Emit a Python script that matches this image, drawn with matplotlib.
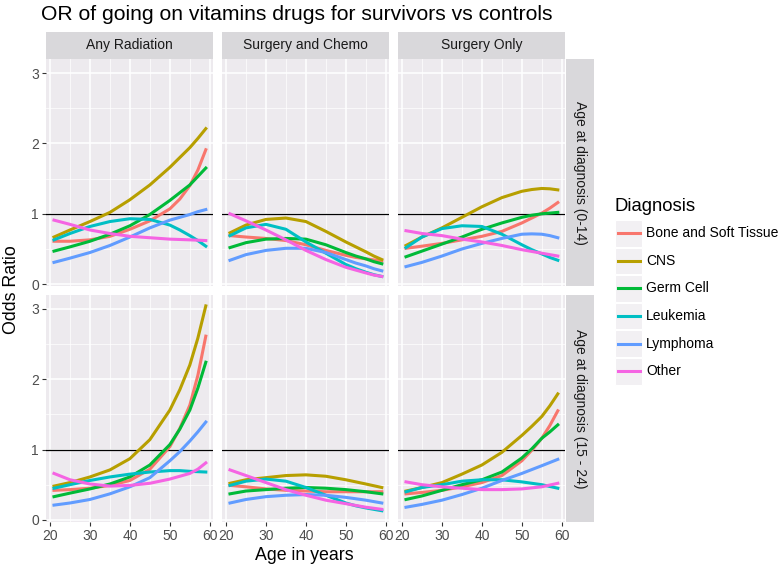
import matplotlib.pyplot as plt
from matplotlib.patches import Rectangle
from matplotlib.lines import Line2D
from matplotlib.ticker import MultipleLocator

plt.rcParams['font.family'] = ['Liberation Sans', 'DejaVu Sans']

# ages at which the fitted curves are read
ages = [21, 25, 30, 35, 40, 45, 50, 52.5, 55, 57, 59]

diagnoses = ['Bone and Soft Tissue', 'CNS', 'Germ Cell', 'Leukemia', 'Lymphoma', 'Other']
colors = ['#F8766D', '#B79F00', '#00BA38', '#00BFC4', '#619CFF', '#F564E3']
treatments = ['Any Radiation', 'Surgery and Chemo', 'Surgery Only']
age_groups = ['Age at diagnosis (0-14)', 'Age at diagnosis (15 - 24)']

# odds ratios, one list per diagnosis (same order as `diagnoses`)
radiation_young = [
    [0.61, 0.61, 0.63, 0.68, 0.78, 0.90, 1.07, 1.21, 1.40, 1.62, 1.91],
    [0.67, 0.77, 0.89, 1.02, 1.20, 1.41, 1.66, 1.80, 1.94, 2.07, 2.21],
    [0.47, 0.53, 0.61, 0.71, 0.83, 0.99, 1.19, 1.30, 1.41, 1.53, 1.65],
    [0.63, 0.72, 0.82, 0.89, 0.93, 0.92, 0.84, 0.77, 0.69, 0.62, 0.54],
    [0.31, 0.37, 0.45, 0.55, 0.67, 0.80, 0.91, 0.95, 0.99, 1.03, 1.06],
    [0.91, 0.85, 0.77, 0.72, 0.68, 0.66, 0.64, 0.635, 0.63, 0.625, 0.62],
]
chemo_young = [
    [0.69, 0.67, 0.65, 0.62, 0.56, 0.48, 0.41, 0.38, 0.36, 0.345, 0.33],
    [0.73, 0.84, 0.92, 0.94, 0.89, 0.75, 0.60, 0.53, 0.46, 0.40, 0.35],
    [0.52, 0.59, 0.64, 0.65, 0.64, 0.56, 0.45, 0.40, 0.36, 0.32, 0.29],
    [0.69, 0.80, 0.85, 0.78, 0.60, 0.44, 0.28, 0.22, 0.17, 0.135, 0.11],
    [0.34, 0.42, 0.48, 0.51, 0.51, 0.45, 0.35, 0.30, 0.26, 0.22, 0.19],
    [1.00, 0.90, 0.77, 0.63, 0.48, 0.35, 0.24, 0.20, 0.16, 0.13, 0.11],
]
surgery_young = [
    [0.51, 0.54, 0.58, 0.63, 0.68, 0.75, 0.87, 0.94, 1.01, 1.08, 1.16],
    [0.55, 0.67, 0.80, 0.95, 1.10, 1.23, 1.32, 1.345, 1.36, 1.355, 1.34],
    [0.39, 0.47, 0.57, 0.67, 0.78, 0.87, 0.95, 0.98, 1.00, 1.01, 1.02],
    [0.52, 0.67, 0.79, 0.83, 0.82, 0.71, 0.56, 0.49, 0.43, 0.38, 0.34],
    [0.25, 0.31, 0.40, 0.50, 0.58, 0.65, 0.71, 0.715, 0.71, 0.69, 0.66],
    [0.76, 0.72, 0.69, 0.64, 0.60, 0.55, 0.49, 0.465, 0.44, 0.42, 0.40],
]
radiation_old = [
    [0.42, 0.43, 0.45, 0.49, 0.56, 0.72, 1.04, 1.30, 1.63, 2.05, 2.61],
    [0.48, 0.53, 0.61, 0.71, 0.87, 1.14, 1.56, 1.85, 2.20, 2.58, 3.04],
    [0.33, 0.38, 0.44, 0.51, 0.61, 0.78, 1.07, 1.29, 1.56, 1.87, 2.24],
    [0.45, 0.50, 0.56, 0.61, 0.65, 0.68, 0.70, 0.70, 0.69, 0.685, 0.68],
    [0.21, 0.24, 0.29, 0.37, 0.47, 0.60, 0.84, 0.97, 1.12, 1.25, 1.39],
    [0.66, 0.57, 0.51, 0.48, 0.49, 0.52, 0.58, 0.62, 0.66, 0.72, 0.81],
]
chemo_old = [
    [0.49, 0.47, 0.44, 0.42, 0.41, 0.40, 0.40, 0.40, 0.40, 0.40, 0.40],
    [0.52, 0.57, 0.60, 0.63, 0.64, 0.62, 0.57, 0.54, 0.51, 0.485, 0.46],
    [0.37, 0.41, 0.43, 0.45, 0.46, 0.45, 0.43, 0.415, 0.40, 0.385, 0.37],
    [0.49, 0.55, 0.58, 0.55, 0.46, 0.35, 0.24, 0.20, 0.17, 0.15, 0.13],
    [0.24, 0.29, 0.33, 0.35, 0.36, 0.35, 0.32, 0.30, 0.28, 0.26, 0.24],
    [0.71, 0.63, 0.53, 0.43, 0.35, 0.28, 0.23, 0.205, 0.18, 0.165, 0.15],
]
surgery_old = [
    [0.37, 0.39, 0.42, 0.47, 0.53, 0.63, 0.84, 0.99, 1.16, 1.34, 1.55],
    [0.41, 0.46, 0.53, 0.65, 0.78, 0.96, 1.20, 1.33, 1.47, 1.62, 1.79],
    [0.29, 0.34, 0.42, 0.50, 0.57, 0.68, 0.88, 1.01, 1.16, 1.25, 1.35],
    [0.40, 0.46, 0.50, 0.55, 0.57, 0.57, 0.54, 0.52, 0.50, 0.475, 0.45],
    [0.18, 0.22, 0.28, 0.36, 0.45, 0.56, 0.66, 0.715, 0.77, 0.815, 0.86],
    [0.54, 0.50, 0.47, 0.45, 0.43, 0.43, 0.44, 0.455, 0.47, 0.495, 0.52],
]

panels = [[radiation_young, chemo_young, surgery_young],
          [radiation_old, chemo_old, surgery_old]]

# layout in pixels
W, H = 779, 569
panel_bg = '#EDEAEE'
strip_bg = '#D9D8DB'


def box(x0, y0, x1, y1):
    return [x0 / W, 1 - y1 / H, (x1 - x0) / W, (y1 - y0) / H]


fig = plt.figure(figsize=(W / 100, H / 100), dpi=100)

col_x = [46, 222, 398]
pw = 167
row_y = [59.3, 295]
ph = 227

for r in range(2):
    for c in range(3):
        x0, y0 = col_x[c], row_y[r]
        ax = fig.add_axes(box(x0, y0, x0 + pw, y0 + ph))
        ax.set_facecolor(panel_bg)
        for s in ax.spines.values():
            s.set_visible(False)
        ax.set_xlim(19, 60.8)
        ax.set_ylim(-0.03, 3.195)
        ax.set_xticks([20, 30, 40, 50, 60])
        ax.set_yticks([0, 1, 2, 3])
        ax.xaxis.set_minor_locator(MultipleLocator(5))
        ax.yaxis.set_minor_locator(MultipleLocator(0.5))
        ax.grid(which='major', color='white', lw=1.1)
        ax.grid(which='minor', color='white', lw=0.5)
        ax.set_axisbelow(True)
        ax.tick_params(which='minor', length=0)
        ax.tick_params(which='major', length=3, width=0.8, color='#333333',
                       labelsize=10, labelcolor='#4D4D4D', pad=2)
        if r == 0:
            ax.tick_params(axis='x', length=0, labelbottom=False)
        if c > 0:
            ax.tick_params(axis='y', length=0, labelleft=False)
        ax.axhline(1, color='black', lw=0.9, zorder=2)
        for vals, col in zip(panels[r][c], colors):
            ax.plot(ages, vals, color=col, lw=2.2, zorder=3)

# top strips
for c, name in enumerate(treatments):
    sax = fig.add_axes(box(col_x[c], 31.7, col_x[c] + pw, 59.3))
    sax.set_facecolor(strip_bg)
    sax.set_xticks([])
    sax.set_yticks([])
    for s in sax.spines.values():
        s.set_visible(False)
    sax.text(0.5, 0.5, name, ha='center', va='center', fontsize=10,
             color='#1A1A1A', transform=sax.transAxes)

# right strips
for r, name in enumerate(age_groups):
    sax = fig.add_axes(box(566, row_y[r], 594, row_y[r] + ph))
    sax.set_facecolor(strip_bg)
    sax.set_xticks([])
    sax.set_yticks([])
    for s in sax.spines.values():
        s.set_visible(False)
    sax.text(0.5, 0.5, name, ha='center', va='center', fontsize=10,
             color='#1A1A1A', rotation=-90, transform=sax.transAxes)

fig.text(297 / W, 1 - 15 / H, 'OR of going on vitamins drugs for survivors vs controls',
         ha='center', va='center', fontsize=15.2)
fig.text(12 / W, 1 - 290 / H, 'Odds Ratio', rotation=90, ha='center', va='center', fontsize=12.8)
fig.text(304 / W, 1 - 555 / H, 'Age in years', ha='center', va='center', fontsize=12.8)

# legend
fig.text(615 / W, 1 - 206 / H, 'Diagnosis', ha='left', va='center', fontsize=13.3)
for i, (name, col) in enumerate(zip(diagnoses, colors)):
    yc = 233.3 + i * 27.6
    fig.add_artist(Rectangle((615 / W, 1 - (yc + 13.3) / H), 27 / W, 26.6 / H,
                             transform=fig.transFigure, facecolor='#F2F0F3',
                             edgecolor='white', lw=0.8))
    fig.add_artist(Line2D([618 / W, 640 / W], [1 - yc / H, 1 - yc / H],
                          transform=fig.transFigure, color=col, lw=2.2))
    fig.text(646 / W, 1 - yc / H, name, ha='left', va='center', fontsize=10)

fig.savefig('out.png', dpi=100)
